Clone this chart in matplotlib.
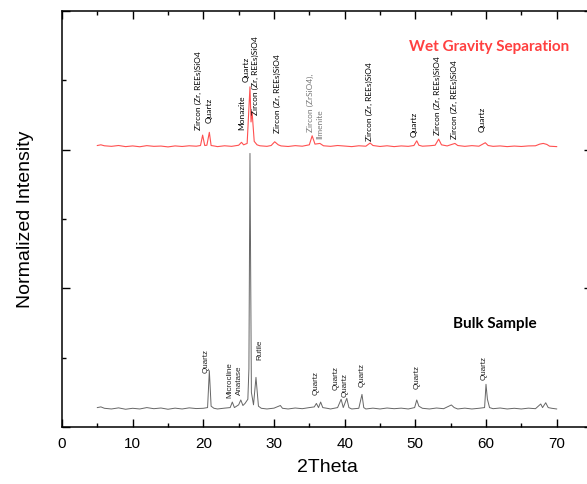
import numpy as np
import matplotlib.pyplot as plt
from matplotlib.ticker import MultipleLocator

# Wet gravity separation trace
red_x = [5.0, 5.5, 6, 7, 8, 9, 10, 11, 12, 13, 14, 15, 16, 17, 18, 19, 19.6, 19.9, 20.2, 20.5,
         20.85, 21.1, 21.6, 22, 23, 24, 25, 25.4, 25.7, 26.2, 26.6, 26.75, 26.9, 27.2, 27.6, 28,
         29, 29.6, 30.1, 30.6, 31, 32, 33, 34, 35.0, 35.4, 35.8, 36.5, 37, 38, 39, 40, 41, 42,
         43, 43.6, 44, 45, 46, 47, 48, 49, 49.8, 50.2, 50.5, 51, 52, 52.8, 53.3, 53.7, 54.5,
         55.6, 56, 57, 58, 59, 59.9, 60.3, 61, 62, 63, 64, 65, 66, 67, 67.6, 68.1, 68.6, 69, 70]
red_y = [2.030, 2.035, 2.028, 2.024, 2.030, 2.022, 2.027, 2.021, 2.029, 2.024, 2.026, 2.020,
         2.027, 2.023, 2.028, 2.025, 2.030, 2.105, 2.030, 2.032, 2.125, 2.030, 2.026, 2.022,
         2.028, 2.024, 2.032, 2.053, 2.035, 2.045, 2.453, 2.200, 2.273, 2.060, 2.035, 2.028,
         2.024, 2.030, 2.057, 2.035, 2.027, 2.023, 2.029, 2.025, 2.035, 2.100, 2.040, 2.045,
         2.028, 2.024, 2.030, 2.026, 2.022, 2.028, 2.025, 2.048, 2.030, 2.023, 2.028, 2.022,
         2.027, 2.024, 2.030, 2.064, 2.032, 2.025, 2.028, 2.032, 2.076, 2.035, 2.027, 2.045,
         2.030, 2.024, 2.029, 2.025, 2.050, 2.030, 2.024, 2.027, 2.022, 2.026, 2.023, 2.027,
         2.028, 2.040, 2.045, 2.038, 2.025, 2.022]

# Bulk sample trace
gray_x = [5, 5.5, 6, 7, 8, 9, 10, 11, 12, 13, 14, 15, 16, 17, 18, 19, 20, 20.6, 20.85, 21.1,
          21.5, 22, 23, 23.8, 24.1, 24.4, 25.0, 25.3, 25.6, 25.9, 26.3, 26.45, 26.6, 26.8, 27.1,
          27.45, 27.8, 28.2, 29, 30, 30.9, 31.2, 32, 33, 34, 35, 35.7, 36.0, 36.3, 36.6, 36.9,
          37.5, 38, 39, 39.5, 39.8, 40.3, 40.6, 41, 42, 42.45, 42.7, 43, 44, 45, 46, 47, 48, 49,
          49.9, 50.2, 50.5, 51, 52, 53, 54, 55.1, 55.5, 56, 57, 58, 59, 59.8, 60.0, 60.2, 60.5,
          61, 62, 63, 64, 65, 66, 67, 67.75, 68.0, 68.45, 68.8, 69.3, 70]
gray_y = [0.140, 0.145, 0.135, 0.130, 0.138, 0.128, 0.135, 0.130, 0.140, 0.132, 0.137, 0.128,
          0.136, 0.130, 0.138, 0.133, 0.135, 0.140, 0.406, 0.150, 0.135, 0.130, 0.136, 0.140,
          0.180, 0.140, 0.160, 0.195, 0.155, 0.170, 0.200, 0.420, 1.973, 0.250, 0.160, 0.358,
          0.150, 0.135, 0.130, 0.136, 0.155, 0.135, 0.130, 0.137, 0.132, 0.140, 0.145, 0.170,
          0.140, 0.180, 0.140, 0.135, 0.130, 0.140, 0.200, 0.140, 0.207, 0.140, 0.130, 0.135,
          0.235, 0.140, 0.130, 0.136, 0.130, 0.137, 0.132, 0.136, 0.130, 0.140, 0.195, 0.150,
          0.135, 0.130, 0.137, 0.132, 0.159, 0.140, 0.130, 0.136, 0.130, 0.135, 0.140, 0.308,
          0.200, 0.140, 0.132, 0.137, 0.130, 0.135, 0.130, 0.136, 0.132, 0.166, 0.140, 0.175,
          0.140, 0.135, 0.130]

# phase labels
red_labels = ['Zircon (Zr, REEs)SiO4', 'Quartz', 'Monazite', 'Quartz', 'Zircon (Zr, REEs)SiO4',
              'Zircon (Zr, REEs)SiO4', 'Zircon (ZrSiO4),', 'Ilmenite', 'Zircon (Zr, REEs)SiO4',
              'Quartz', 'Zircon (Zr, REEs)SiO4', 'Zircon (Zr, REEs)SiO4', 'Quartz']
red_label_x = [19.24, 20.79, 25.42, 26.12, 27.44, 30.51, 35.2, 36.5, 43.56, 49.83, 53.08, 55.59, 59.45]
red_label_y = [2.141, 2.192, 2.141, 2.49, 2.25, 2.12, 2.13, 2.08, 2.062, 2.093, 2.105, 2.08, 2.13]

gray_labels = ['Quartz', 'Microcline', 'Anatase', 'Rutile', 'Quartz', 'Quartz', 'Quartz',
               'Quartz', 'Quartz', 'Quartz']
gray_label_x = [20.33, 23.76, 25.18, 28.0, 35.93, 38.85, 40.1, 42.43, 50.3, 59.73]
gray_label_y = [0.387, 0.207, 0.231, 0.483, 0.231, 0.267, 0.216, 0.288, 0.274, 0.339]

plt.rcParams['font.family'] = ['Liberation Sans', 'DejaVu Sans']

fig = plt.figure(figsize=(5.87, 4.84), dpi=100)
ax = fig.add_axes([62/587, 57/484, 530/587, 416/484])

ax.plot(red_x, red_y, color='#ff5050', lw=0.8)
ax.plot(gray_x, gray_y, color='#666666', lw=0.7)

for t, x, y in zip(red_labels, red_label_x, red_label_y):
    c = '#777777' if t in ('Zircon (ZrSiO4),', 'Ilmenite') else 'black'
    ax.text(x, y, t, rotation=90, ha='center', va='bottom', fontsize=6,
            family='Lato', color=c)
for t, x, y in zip(gray_labels, gray_label_x, gray_label_y):
    ax.text(x, y, t, rotation=90, ha='center', va='bottom', fontsize=5.8, color='#222222')

ax.text(60.5, 2.742, 'Wet Gravity Separation', ha='center', va='center', fontsize=11,
        family='Lato', fontweight='bold', color='#ff4040')
ax.text(61.2, 0.743, 'Bulk Sample', ha='center', va='center', fontsize=11,
        family='Lato', fontweight='bold', color='black')

ax.set_xlim(0, 75)
ax.set_ylim(0, 3)
ax.xaxis.set_major_locator(MultipleLocator(10))
ax.xaxis.set_minor_locator(MultipleLocator(5))
ax.yaxis.set_major_locator(MultipleLocator(1))
ax.yaxis.set_minor_locator(MultipleLocator(0.5))
ax.tick_params(which='both', direction='in', top=True, right=True, labelleft=False, width=1)
ax.tick_params(which='major', length=6, labelsize=11, pad=7)
ax.tick_params(which='minor', length=3)
for s in ax.spines.values():
    s.set_linewidth(1.1)

ax.set_xlabel('2Theta', fontsize=14, labelpad=6)
ax.set_ylabel('Normalized Intensity', fontsize=14, labelpad=20)

fig.savefig('out.png', dpi=100)
